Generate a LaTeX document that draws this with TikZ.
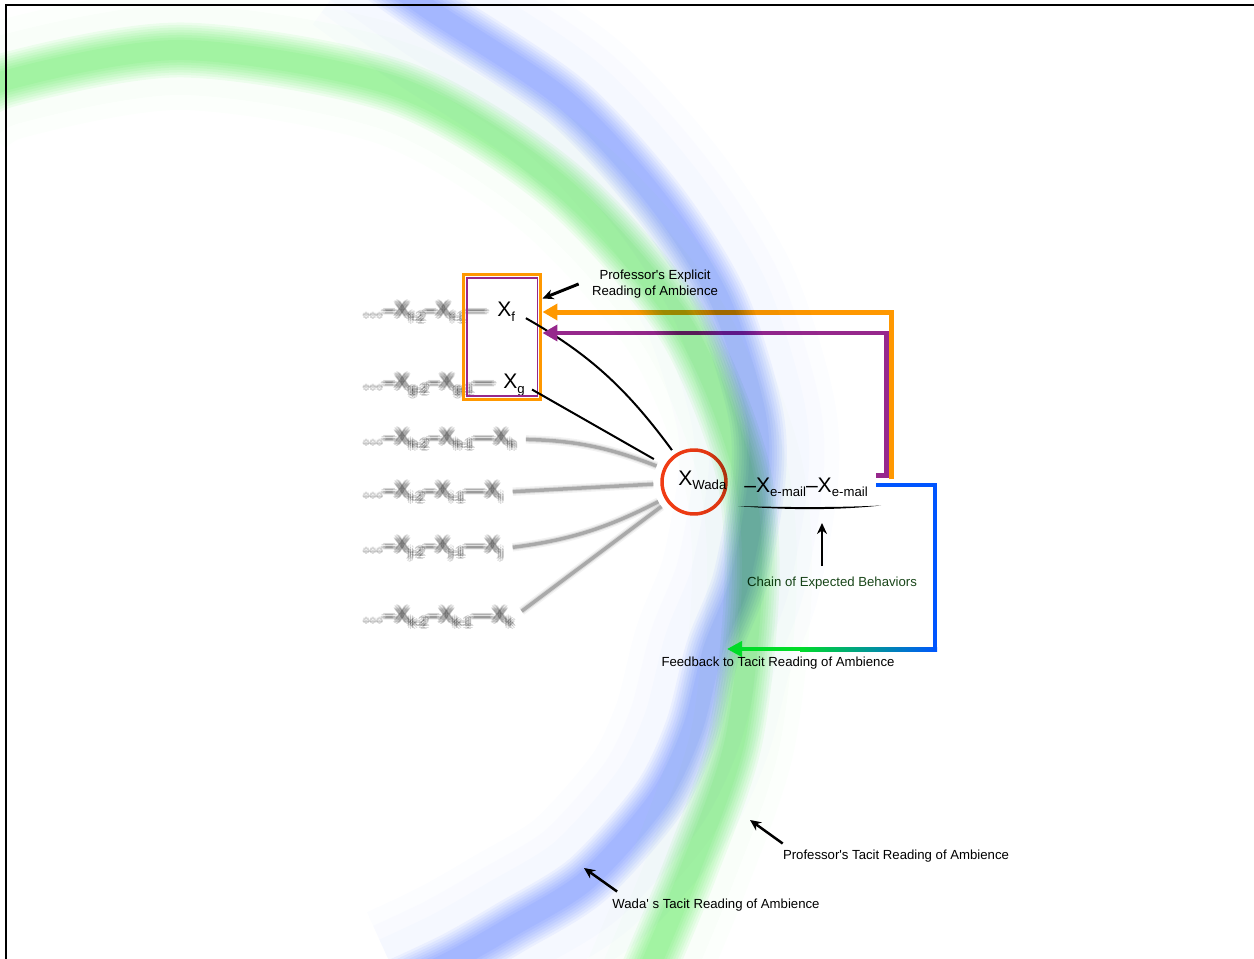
\documentclass[tikz,border=0pt]{standalone}
\usepackage{fontspec}
\setmainfont{Liberation Sans}
\usetikzlibrary{arrows.meta}

\definecolor{tacitgreen}{RGB}{190,249,190}
\definecolor{tacitblue}{RGB}{196,210,255}
\definecolor{explorange}{RGB}{255,152,0}
\definecolor{explpurple}{RGB}{150,40,140}
\definecolor{wadared}{RGB}{240,60,20}
\definecolor{fbblue}{RGB}{0,85,255}
\definecolor{fbgreen}{RGB}{0,220,40}
\definecolor{chaingreen}{RGB}{25,70,25}

% X with a lowered index
\newcommand{\xvar}[1]{X\raisebox{-2.8pt}{\fontsize{7.5}{8}\selectfont #1}}
% centre lines of the two tacit readings
\newcommand{\profband}{plot[smooth] coordinates {
    (-40,110) (7,80) (184,50) (400,88) (560,185) (680,320) (740,460)
    (752,580) (735,740) (690,870) (640,990)}}
\newcommand{\wadaband}{plot[smooth] coordinates {
    (360,-40) (430,10) (565,100) (657,200) (720,300) (755,410) (758,480)
    (740,580) (713,650) (692,730) (658,800) (587,880) (511,927) (455,959) (400,985)}}

\begin{document}
\begin{tikzpicture}[x=0.02cm,y=-0.02cm,font=\fontsize{7.5}{9.1}\selectfont,
    every node/.style={inner sep=0pt},
    var/.style={font=\fontsize{12}{12}\selectfont},
    note/.style={align=center},
    pointer/.style={-{Stealth[length=0.22cm,width=0.2cm]},line width=0.05cm},
    thread/.style={line width=0.1cm},
    hazy/.style={var,opacity=0.15},
    hazyline/.style={draw=gray,line width=0.07cm,opacity=0.55,
        preaction={draw=gray,line width=0.17cm,opacity=0.1},
        preaction={draw=gray,line width=0.11cm,opacity=0.2}}]
    \useasboundingbox (0,0) rectangle (1254,959);
    \draw[line width=0.04cm] (6,959) -- (6,5) -- (1254,5);

    % earlier behaviours, out of focus
    \foreach \r/\y/\s in {1/317/f,2/389/g}{
        \foreach \dx/\dy in {-2.5/0,2.5/0,0/-2.5,0/2.5,-1.8/-1.8,1.8/1.8,-1.8/1.8,1.8/-1.8,0/0}
            \node[hazy,anchor=base west] (row\r) at (362+\dx,\y+\dy)
                {\ldots–\xvar{\s-2}–\xvar{\s-1}—};
    }
    \foreach \r/\y/\s in {3/444/h,4/497/i,5/552/j,6/622/k}{
        \foreach \dx/\dy in {-2.5/0,2.5/0,0/-2.5,0/2.5,-1.8/-1.8,1.8/1.8,-1.8/1.8,1.8/-1.8,0/0}
            \node[hazy,anchor=base west] (row\r) at (362+\dx,\y+\dy)
                {\ldots–\xvar{\s-2}–\xvar{\s-1}—\xvar{\s}};
    }

    \node[var,anchor=base west] (xf) at (497,317) {\xvar{f}};
    \node[var,anchor=base west] (xg) at (503,389) {\xvar{g}};
    \node[draw=explorange,line width=0.06cm,minimum width=1.56cm,minimum height=2.52cm]
        (explicit) at (502,337) {};
    \node[draw=explpurple,line width=0.04cm,minimum width=1.42cm,minimum height=2.38cm]
        (explicitin) at (explicit.center) {};

    \node[circle,draw=wadared,line width=0.07cm,minimum size=1.28cm] (wada) at (694,482) {};
    \node[var,anchor=base west] (wadaname) at (678,485) {\xvar{Wada}};
    \node[var,anchor=base west] (emails) at (744,492) {–\xvar{e-mail}–\xvar{e-mail}};

    \draw[line width=0.04cm,shorten <=0.24cm,shorten >=0.1cm] (xf.east) to[bend left=12] (wada);
    \draw[line width=0.04cm,shorten <=0.16cm,shorten >=0.25cm] (xg.east) -- (wada);
    \draw[hazyline,shorten <=0.2cm,shorten >=0.14cm] (row3.east) to[bend left=10] (wada);
    \draw[hazyline,shorten <=0.2cm,shorten >=0.14cm] (row4.east) -- (wada);
    \draw[hazyline,shorten <=0.2cm,shorten >=0.14cm] (row5.east) to[bend right=10] (wada);
    \draw[hazyline,shorten <=0.2cm,shorten >=0.14cm] (row6.east) -- (wada);

    % chain of expected behaviours
    \fill (738,506) .. controls (790,510.5) and (840,510) .. (881,505.5)
        .. controls (840,507.5) and (790,507.5) .. cycle;
    \node[text=chaingreen] (chainlbl) at (832,583) {Chain of Expected Behaviors};
    \coordinate (chainfoot) at (822,566);
    \coordinate (chainmid) at (822,523);
    \draw[pointer] (chainfoot) -- (chainmid);

    % explicit reading
    \node[note] (explicitlbl) at (655,284) {Professor\textquotesingle s Explicit\\Reading of Ambience};
    \draw[pointer,line width=0.06cm] ([xshift=-0.26cm]explicitlbl.west) -- (explicit.east |- explicitlbl.south);
    \coordinate (purpleout) at (876,475);
    \coordinate (orangeout) at (891,479);
    \draw[thread,explpurple,-{Triangle[length=0.3cm,width=0.32cm]}]
        (purpleout) -- ++(10,0) |- ([yshift=0.08cm]explicit.east);
    \draw[thread,explorange,-{Triangle[length=0.3cm,width=0.32cm]}]
        (orangeout) |- ([yshift=0.5cm]explicit.east);

    % tacit readings
    \node (proftacit) at (896,856) {Professor\textquotesingle s Tacit Reading of Ambience};
    \coordinate (proftip) at (750,820);
    \draw[pointer] ([yshift=0.12cm]proftacit.north west) -- (proftip);
    \node (wadatacit) at (716,905) {Wada\textquotesingle{} s Tacit Reading of Ambience};
    \coordinate (wadatip) at (584,868);
    \draw[pointer] ([xshift=0.1cm,yshift=0.14cm]wadatacit.north west) -- (wadatip);

    \begin{scope}[blend mode=multiply]
        \clip (0,0) rectangle (1254,959);
        \foreach \w/\o in {2.4/0.04,1.8/0.05}
            \draw[tacitgreen,line width=\w cm,opacity=\o] \profband;
        \foreach \w/\o in {3.2/0.05,2.6/0.05,2/0.06}
            \draw[tacitblue,line width=\w cm,opacity=\o] \wadaband;
        \foreach \w in {1.1,1.0,...,0.3}{
            \draw[tacitgreen,line width=\w cm,opacity=0.2] \profband;
            \draw[tacitblue,line width=\w cm,opacity=0.2] \wadaband;
        }
    \end{scope}

    % feedback
    \coordinate (fbout) at (876,485);
    \coordinate (fbcorner) at (935,649);
    \coordinate (fbtip) at (727,649);
    \draw[fbblue,line width=0.08cm] (fbout) -| (fbcorner);
    \shade[left color=fbgreen,right color=fbblue] (800,647) rectangle (937,651);
    \draw[fbgreen,line width=0.08cm,-{Triangle[length=0.3cm,width=0.3cm]}] (801,649) -- (fbtip);
    \node (fblbl) at (778,663) {Feedback to Tacit Reading of Ambience};
\end{tikzpicture}
\end{document}
